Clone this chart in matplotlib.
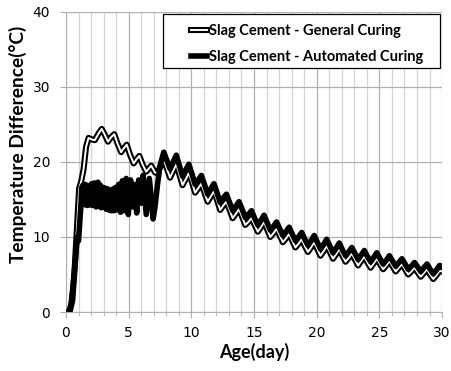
import matplotlib
matplotlib.use("Agg")
import matplotlib.pyplot as plt
import matplotlib.patheffects as pe
from matplotlib.patches import Rectangle, Shadow
from matplotlib.ticker import MultipleLocator

# General curing (double line)
gen_day = [0, 0.3, 0.5, 0.7, 0.9, 1.05, 1.2, 1.4, 1.6, 1.8, 2.05, 2.3, 2.6, 2.85,
           3.1, 3.35, 3.6, 3.85, 4.1, 4.4, 4.6, 4.85, 5.1, 5.4, 5.6, 5.85,
           6.1, 6.4, 6.6, 6.8, 7.1, 7.3, 7.55,
           7.8, 8.05, 8.3, 8.55, 8.8, 9.05, 9.3, 9.55, 9.8, 10.05, 10.3, 10.55,
           10.8, 11.05, 11.3, 11.55, 11.8, 12.05, 12.3, 12.55, 12.8, 13.05, 13.3,
           13.55, 13.8, 14.05, 14.3, 14.55, 14.8, 15.05, 15.3, 15.55, 15.8, 16.05,
           16.3, 16.55, 16.8, 17.05, 17.3, 17.55, 17.8, 18.05, 18.3, 18.55, 18.8,
           19.05, 19.3, 19.55, 19.8, 20.05, 20.3, 20.55, 20.8, 21.05, 21.3, 21.55,
           21.8, 22.05, 22.3, 22.55, 22.8, 23.05, 23.3, 23.55, 23.8, 24.05, 24.3,
           24.55, 24.8, 25.05, 25.3, 25.55, 25.8, 26.05, 26.3, 26.55, 26.8, 27.05,
           27.3, 27.55, 27.8, 28.05, 28.3, 28.55, 28.8, 29.05, 29.3, 29.55, 29.8, 30.0]
gen_temp = [0, 0.1, 1.5, 6.0, 12.0, 16.5, 17.3, 19.0, 22.0, 23.2, 23.0, 22.9, 23.8, 24.4,
            23.6, 22.7, 23.3, 23.7, 22.5, 21.3, 21.8, 22.3, 21.0, 19.8, 20.3, 20.8,
            19.7, 18.7, 19.1, 19.5, 18.6, 18.5, 19.5,
            20.3, 19.1, 17.9, 18.8, 19.7, 18.3, 16.9, 17.7, 18.5, 17.3, 15.9, 16.5,
            17.1, 15.9, 14.7, 15.4, 16.1, 14.9, 13.6, 14.2, 14.7, 13.6, 12.5,
            13.1, 13.7, 12.7, 11.6, 12.0, 12.5, 11.6, 10.7, 11.3, 12.0, 11.0,
            10.0, 10.5, 11.1, 10.2, 9.3, 9.8, 10.4, 9.5, 8.6, 9.1, 9.7,
            8.8, 8.0, 8.6, 9.3, 8.4, 7.5, 8.1, 8.8, 8.0, 7.1, 7.7,
            8.4, 7.5, 6.7, 7.2, 7.8, 7.0, 6.2, 6.8, 7.4, 6.6, 5.9,
            6.5, 7.1, 6.4, 5.7, 6.2, 6.8, 6.1, 5.4, 5.9, 6.4, 5.7,
            5.0, 5.4, 5.9, 5.3, 4.7, 5.2, 5.7, 5.0, 4.4, 4.9, 5.5, 5.4]

# Automated curing (thick black)
auto_day = [0, 0.25, 0.4, 0.6, 0.8, 0.9, 1.0, 1.1, 1.2,
            1.25, 1.3, 1.35, 1.4, 1.45, 1.5, 1.55, 1.6, 1.65, 1.7, 1.75, 1.8, 1.85,
            1.9, 1.95, 2.0, 2.05, 2.1, 2.15, 2.2, 2.25, 2.3, 2.35, 2.4, 2.45, 2.5,
            2.55, 2.6, 2.65, 2.7, 2.75, 2.8, 2.85, 2.9, 2.95, 3.0, 3.05, 3.1, 3.15,
            3.2, 3.25, 3.3, 3.35, 3.4, 3.45, 3.5, 3.55, 3.6, 3.65, 3.7, 3.75, 3.8,
            3.85, 3.9, 3.95, 4.0,
            4.2, 4.35, 4.5, 4.65, 4.8, 4.97, 5.15, 5.35, 5.5, 5.64, 5.8, 6.0,
            6.15, 6.4, 6.65, 6.95, 7.1, 7.3, 7.5,
            7.8, 8.05, 8.3, 8.55, 8.8, 9.05, 9.3, 9.55, 9.8, 10.05, 10.3, 10.55,
            10.8, 11.05, 11.3, 11.55, 11.8, 12.05, 12.3, 12.55, 12.8, 13.05, 13.3,
            13.55, 13.8, 14.05, 14.3, 14.55, 14.8, 15.05, 15.3, 15.55, 15.8, 16.05,
            16.3, 16.55, 16.8, 17.05, 17.3, 17.55, 17.8, 18.05, 18.3, 18.55, 18.8,
            19.05, 19.3, 19.55, 19.8, 20.05, 20.3, 20.55, 20.8, 21.05, 21.3, 21.55,
            21.8, 22.05, 22.3, 22.55, 22.8, 23.05, 23.3, 23.55, 23.8, 24.05, 24.3,
            24.55, 24.8, 25.05, 25.3, 25.55, 25.8, 26.05, 26.3, 26.55, 26.8, 27.05,
            27.3, 27.55, 27.8, 28.05, 28.3, 28.55, 28.8, 29.05, 29.3, 29.55, 29.8, 30.0]
auto_temp = [0, 0.1, 1.0, 4.0, 8.0, 10.0, 9.5, 12.0, 14.5,
             16.6, 14.4, 16.9, 14.8, 16.2, 14.3, 17.0, 15.0, 16.4, 14.2, 16.8, 14.6,
             16.1, 14.3, 16.9, 14.9, 17.1, 14.2, 16.5, 14.8, 17.2, 14.4, 16.3, 14.0,
             16.9, 14.6, 17.3, 14.2, 16.4, 14.5, 16.9, 13.9, 16.2, 14.6, 16.6, 14.0,
             16.0, 14.4, 16.5, 13.7, 15.9, 14.2, 16.4, 13.6, 16.1, 14.3, 15.8, 13.5,
             16.2, 14.0, 16.4, 13.5, 15.9, 14.1, 16.6, 13.6,
             17.0, 13.3, 17.5, 13.5, 17.8, 13.0, 17.6, 14.0, 17.0, 13.2, 17.6, 14.5,
             18.2, 13.0, 17.8, 12.4, 14.0, 17.0, 19.5,
             21.3, 20.2, 19.1, 20.0, 20.9, 19.5, 18.1, 18.9, 19.7, 18.4, 17.0, 17.6,
             18.2, 17.0, 15.7, 16.4, 17.1, 15.9, 14.6, 15.2, 15.7, 14.6, 13.5,
             14.1, 14.7, 13.7, 12.6, 13.0, 13.5, 12.5, 11.6, 12.2, 12.9, 11.9,
             10.9, 11.4, 12.0, 11.1, 10.2, 10.7, 11.3, 10.4, 9.5, 10.0, 10.6,
             9.7, 8.9, 9.5, 10.2, 9.3, 8.4, 9.0, 9.7, 8.8, 7.9, 8.5,
             9.2, 8.3, 7.5, 8.0, 8.6, 7.8, 7.0, 7.6, 8.2, 7.4, 6.7,
             7.3, 7.9, 7.1, 6.4, 6.9, 7.5, 6.8, 6.1, 6.6, 7.1, 6.4,
             5.7, 6.1, 6.6, 6.0, 5.4, 5.9, 6.4, 5.7, 5.1, 5.6, 6.2, 6.1]

labels = ["Slag Cement - General Curing", "Slag Cement - Automated Curing"]

fig = plt.figure(figsize=(4.52, 3.71), dpi=100)
ax = fig.add_axes([0.146, 0.159, 0.832, 0.809])

ax.plot(gen_day, gen_temp, color="white", lw=1.4, label=labels[0],
        path_effects=[pe.Stroke(linewidth=4.4, foreground="black"), pe.Normal()],
        zorder=3)
ax.plot(auto_day, auto_temp, color="black", lw=4.0, label=labels[1], zorder=4)

ax.set_xlim(0, 30)
ax.set_ylim(0, 40)
ax.xaxis.set_major_locator(MultipleLocator(5))
ax.xaxis.set_minor_locator(MultipleLocator(1))
ax.yaxis.set_major_locator(MultipleLocator(10))

ax.grid(which="major", color="#b0b0b0", lw=0.9)
ax.grid(which="minor", axis="x", color="#d4d4d4", lw=0.9)
ax.set_axisbelow(True)
for s in ax.spines.values():
    s.set_visible(False)
ax.spines["left"].set_visible(True)
ax.spines["left"].set_color("#b0b0b0")
ax.spines["bottom"].set_visible(True)
ax.spines["bottom"].set_color("#b0b0b0")

ax.tick_params(which="both", direction="out", color="#b0b0b0", labelsize=10)
ax.tick_params(which="major", length=4)
ax.tick_params(which="minor", length=3)
ax.tick_params(axis="x", pad=6)
ax.tick_params(axis="y", length=4.3, pad=7)

ax.set_xlabel("Age(day)", family="Lato", weight="bold", size=13, labelpad=2)
ax.set_ylabel("Temperature Difference(°C)", family="Lato", weight="bold", size=13.8)
ax.yaxis.set_label_coords(-0.104, 0.56)

# legend box with shadow
box = Rectangle((0.258, 0.813), 0.737, 0.18, transform=ax.transAxes,
                facecolor="white", edgecolor="black", lw=0.9, zorder=6)
shadow = Shadow(box, 2.0, -2.0, zorder=5)
shadow.set_facecolor("#7f7f7f")
shadow.set_alpha(0.6)
ax.add_patch(shadow)
ax.add_patch(box)

leg = ax.legend(loc="upper left", bbox_to_anchor=(0.333, 0.958),
                prop=dict(family="Lato", weight="bold", size=10.5),
                frameon=False, handlelength=1.1, handletextpad=0.12,
                borderpad=0, labelspacing=0.78, borderaxespad=0)
leg.set_zorder(7)

fig.savefig("out.png", dpi=100)
